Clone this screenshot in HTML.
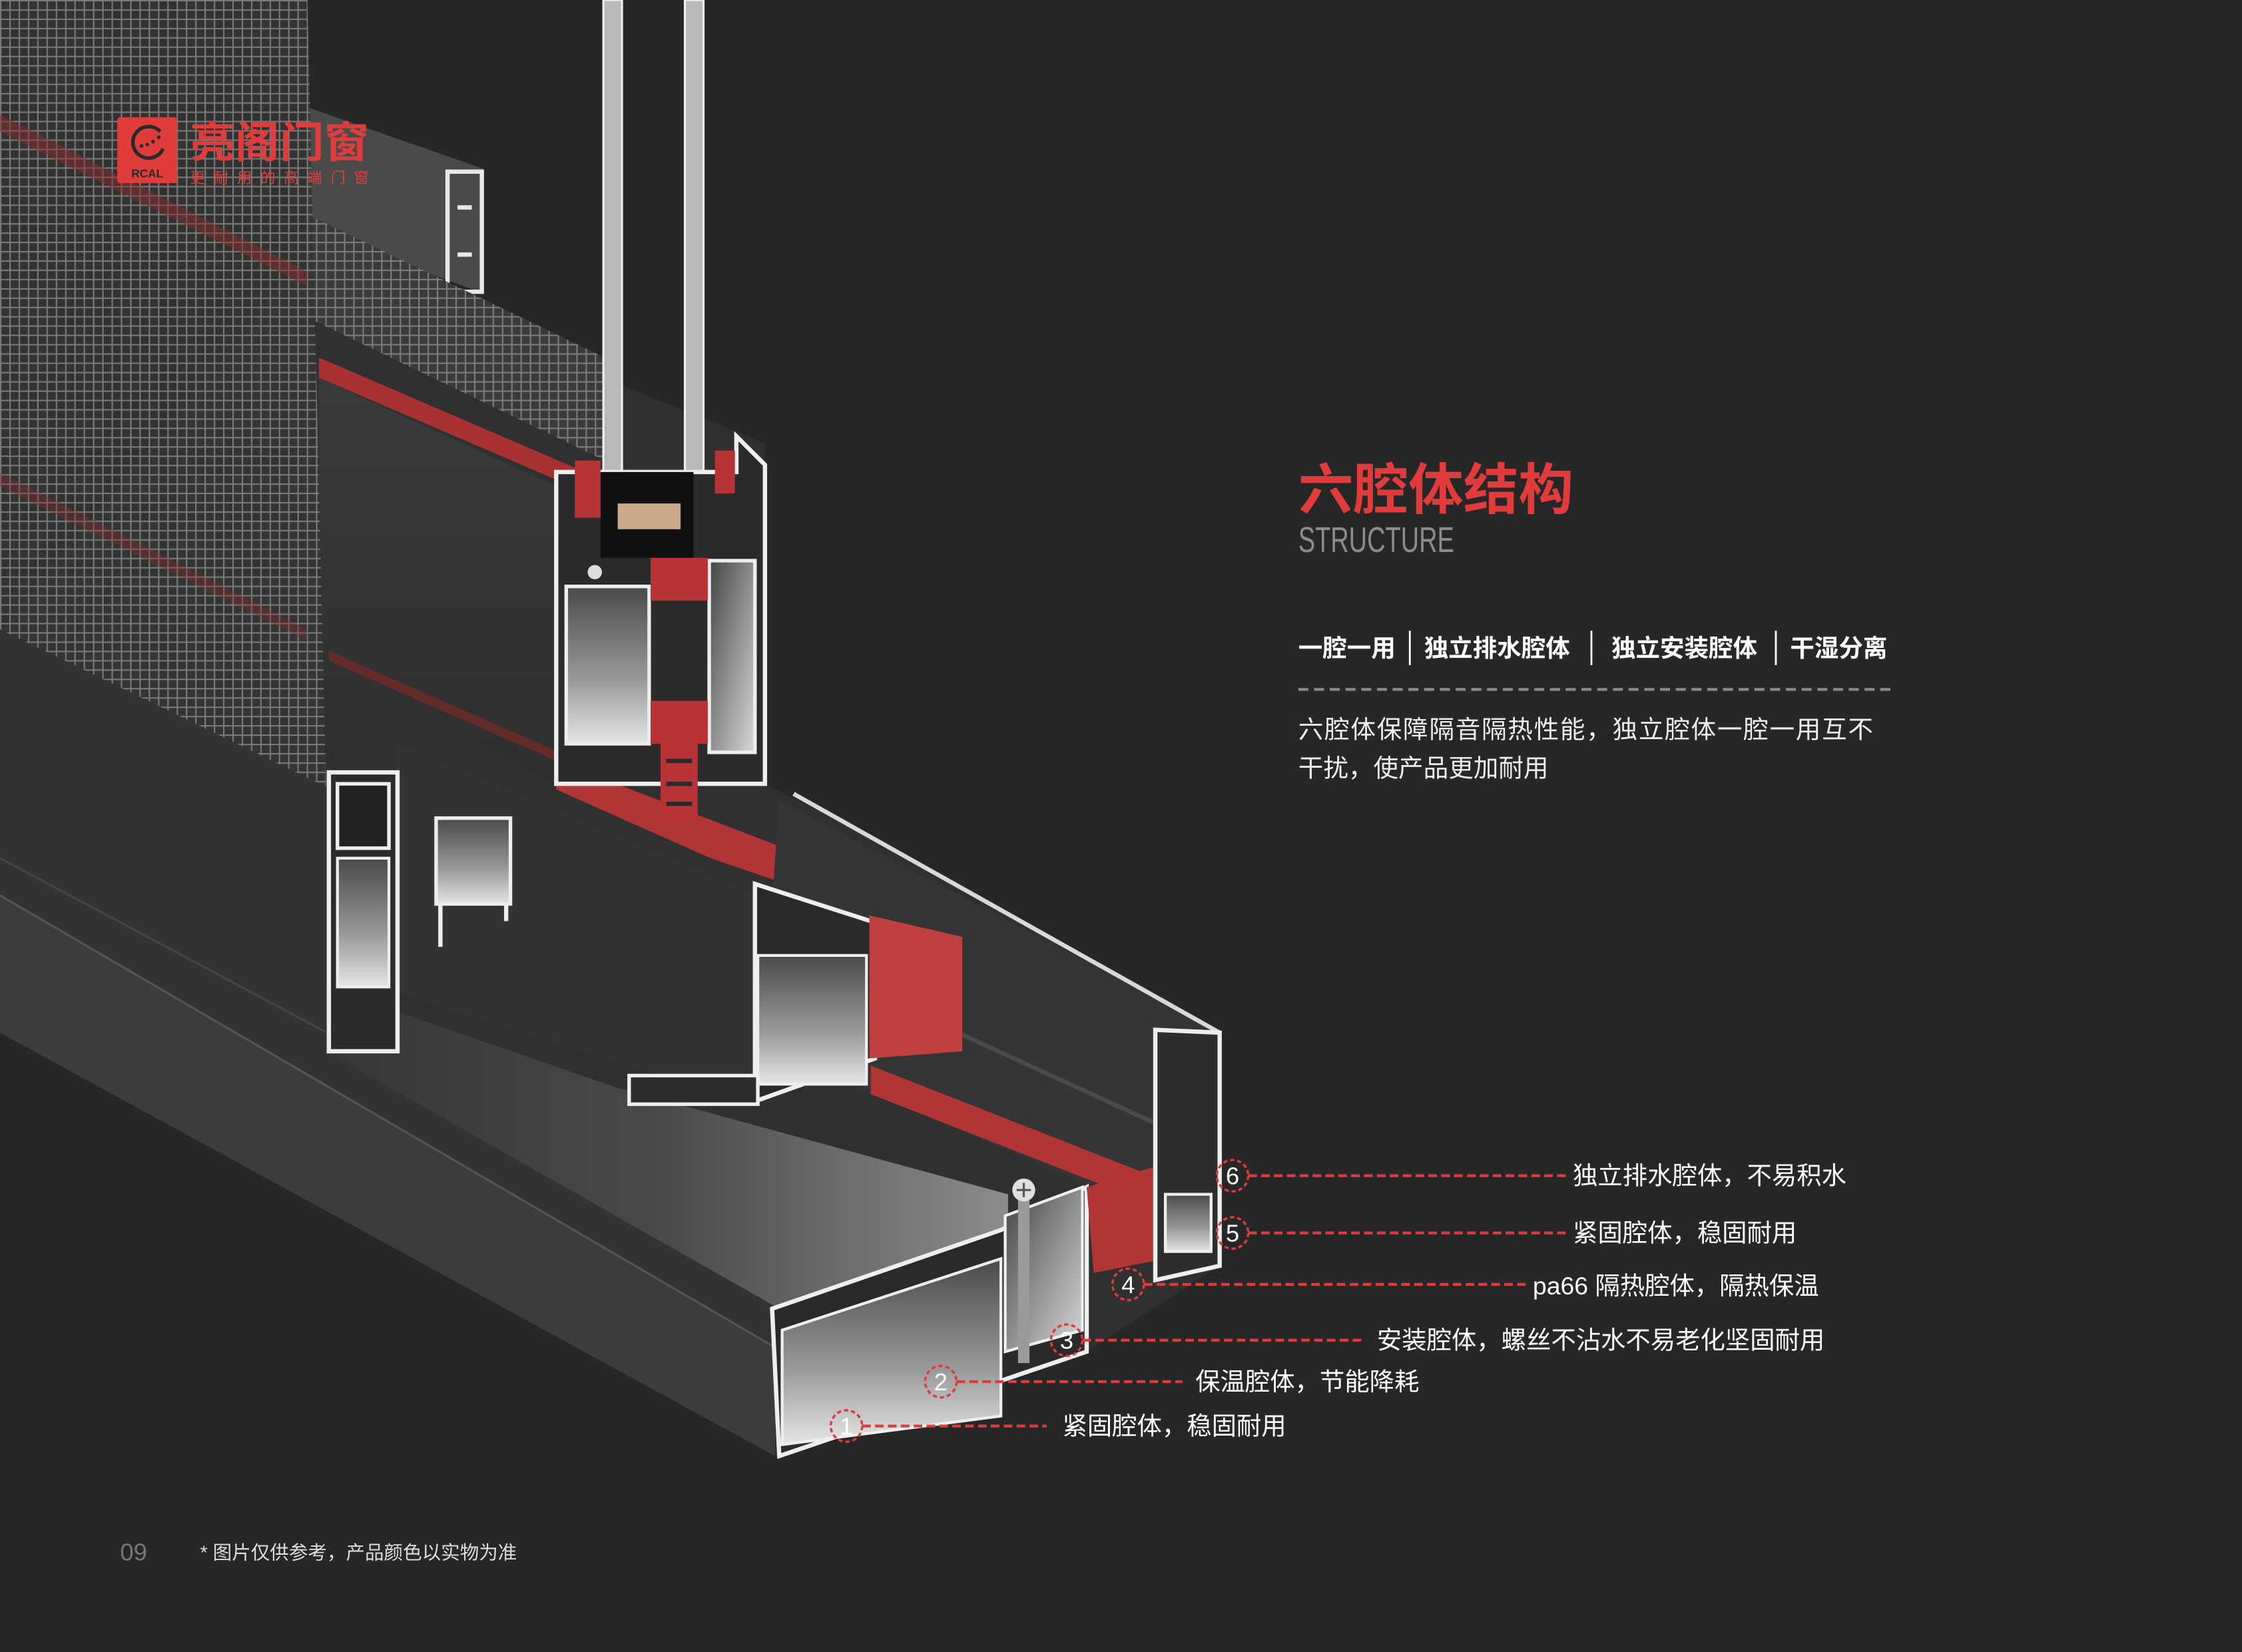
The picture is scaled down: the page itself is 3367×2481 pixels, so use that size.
<!DOCTYPE html>
<html><head><meta charset="utf-8"><style>
html,body{margin:0;padding:0;background:#272727;}
svg{display:block;}
text{font-family:"Liberation Sans","Noto Sans CJK SC",sans-serif;}
</style></head><body>
<svg width="3367" height="2481" viewBox="0 0 1568 1155" preserveAspectRatio="none" xmlns="http://www.w3.org/2000/svg">
<defs>
<pattern id="mesh" width="6.5" height="6.5" patternUnits="userSpaceOnUse">
<rect width="6.5" height="6.5" fill="none"/>
<path d="M0 0.5H6.5M0.5 0V6.5" stroke="#a8a8a8" stroke-width="1" opacity="0.6"/>
</pattern>
<linearGradient id="alu" x1="0" y1="0" x2="0" y2="1"><stop offset="0" stop-color="#4a4a4a"/><stop offset="0.6" stop-color="#9a9a9a"/><stop offset="1" stop-color="#e6e6e6"/></linearGradient>
<linearGradient id="alu2" x1="0" y1="0" x2="1" y2="1"><stop offset="0" stop-color="#444"/><stop offset="1" stop-color="#d8d8d8"/></linearGradient>
<linearGradient id="plane" x1="0" y1="0" x2="1" y2="0"><stop offset="0" stop-color="#363636"/><stop offset="0.5" stop-color="#4a4a4a"/><stop offset="1" stop-color="#8c8c8c"/></linearGradient>
<linearGradient id="face" x1="0" y1="0" x2="0" y2="1"><stop offset="0" stop-color="#3a3a3a"/><stop offset="1" stop-color="#2e2e2e"/></linearGradient>
</defs>
<rect width="1568" height="1155" fill="#272727"/>

<polygon points="215,180 535,310 535,548 600,580 853,720 853,885 760,945 545,1018 0,722 0,440" fill="#303030"/>
<polygon points="215,75 338,118 338,205 215,160" fill="#4a4a4a"/>
<rect x="313" y="120" width="24" height="84" fill="none" stroke="#e8e8e8" stroke-width="3"/>
<path d="M320 145h10M320 178h10" stroke="#e8e8e8" stroke-width="3"/>
<polygon points="215,150 423,250 423,322 215,222" fill="#3a3a3a"/>
<polygon points="215,150 423,250 423,322 215,222" fill="url(#mesh)"/>
<polygon points="223,250 423,336 423,350 223,264" fill="#a83232"/>
<polygon points="223,264 389,340 389,547 223,474" fill="url(#face)"/>
<polygon points="230,455 389,525 389,532 230,462" fill="#7a2a2a" opacity="0.7"/>
<polygon points="389,532 672,640 672,660 497,600 389,552" fill="#b23535"/>
<polygon points="0,440 228,550 228,735 540,905 540,942 0,626" fill="#333333"/>
<polygon points="0,626 542,942 542,1018 0,722" fill="#3c3c3c"/>
<line x1="0" y1="626" x2="542" y2="942" stroke="#555" stroke-width="1.5"/>
<line x1="0" y1="600" x2="300" y2="760" stroke="#444" stroke-width="1.5"/>
<polygon points="228,690 430,760 705,835 705,860 545,915 228,735" fill="url(#plane)"/>
<polygon points="545,560 853,722 853,820 760,828 600,760 535,700" fill="#353535"/>
<line x1="555" y1="555" x2="853" y2="722" stroke="#d8d8d8" stroke-width="3"/>
<line x1="600" y1="690" x2="840" y2="800" stroke="#4a4a4a" stroke-width="3"/>
<polygon points="609,745 813,825 813,845 609,765" fill="#b23535"/>
<polygon points="0,0 215,0 228,550 0,440" fill="#353535" opacity="0.85"/>
<polygon points="0,0 215,0 228,550 0,440" fill="url(#mesh)"/>
<polygon points="0,80 215,190 215,200 0,92" fill="#8a2b2b" opacity="0.5"/>
<polygon points="0,330 215,440 215,448 0,340" fill="#8a2b2b" opacity="0.35"/>
<rect x="422" y="0" width="13" height="390" fill="#b9b9b9" stroke="#eee" stroke-width="1.5"/>
<rect x="479" y="0" width="13" height="330" fill="#b9b9b9" stroke="#eee" stroke-width="1.5"/>
<path d="M389 330 L515 330 L515 305 L535 325 L535 548 L389 548 Z" fill="#2b2b2b" stroke="#eee" stroke-width="3"/>
<rect x="420" y="330" width="65" height="60" fill="#111"/>
<rect x="432" y="352" width="44" height="18" fill="#c9a98a"/>
<rect x="402" y="322" width="18" height="40" fill="#b83434"/>
<rect x="500" y="315" width="14" height="30" fill="#b83434"/>
<rect x="396" y="410" width="58" height="110" fill="url(#alu)" stroke="#eee" stroke-width="2.5"/>
<rect x="496" y="392" width="32" height="134" fill="url(#alu2)" stroke="#eee" stroke-width="2.5"/>
<rect x="455" y="390" width="40" height="30" fill="#b83434"/>
<rect x="455" y="490" width="40" height="30" fill="#b83434"/>
<rect x="462" y="520" width="26" height="55" fill="#b83434"/>
<path d="M466 532h18M466 548h18M466 562h18" stroke="#2a2a2a" stroke-width="3"/>
<circle cx="416" cy="400" r="5" fill="#ddd"/>
<polygon points="277,519 530,626 530,773 277,694" fill="#333"/>
<path d="M528 618 L612 645 L612 740 L528 770 Z" fill="#2a2a2a" stroke="#eee" stroke-width="3"/>
<rect x="530" y="668" width="76" height="90" fill="url(#alu)" stroke="#eee" stroke-width="2"/>
<polygon points="608,640 673,655 673,735 608,740" fill="#c0403f"/>
<rect x="440" y="752" width="90" height="20" fill="#2d2d2d" stroke="#eee" stroke-width="2.5"/>
<rect x="230" y="540" width="48" height="195" fill="#2b2b2b" stroke="#eee" stroke-width="3"/>
<rect x="236" y="548" width="36" height="45" fill="#222" stroke="#eee" stroke-width="2.5"/>
<rect x="236" y="600" width="36" height="90" fill="url(#alu)" stroke="#eee" stroke-width="2"/>
<rect x="305" y="572" width="52" height="60" fill="url(#alu)" stroke="#eee" stroke-width="2.5"/>
<path d="M308 632v30M354 632v12" stroke="#eee" stroke-width="3"/>
<path d="M540 915 L700 860 L760 830 L760 945 L545 1018 Z" fill="#2a2a2a" stroke="#eee" stroke-width="3"/>
<polygon points="547,930 700,880 700,990 547,1010" fill="url(#alu)" stroke="#eee" stroke-width="2"/>
<polygon points="703,850 757,830 757,930 703,945" fill="url(#alu2)" stroke="#eee" stroke-width="2"/>
<polygon points="760,830 810,815 815,880 765,890" fill="#b23535"/>
<polygon points="808,720 853,722 853,885 808,895" fill="#2d2d2d" stroke="#eee" stroke-width="3"/>
<rect x="815" y="835" width="32" height="40" fill="url(#alu)" stroke="#eee" stroke-width="2"/>
<rect x="712" y="838" width="8" height="115" fill="#9a9a9a"/>
<circle cx="716" cy="832" r="8" fill="#e0e0e0"/>
<path d="M711 832h10M716 827v10" stroke="#555" stroke-width="1.5"/>

<rect x="82" y="82" width="42" height="46" rx="2" fill="#e03c3c"/>
<path d="M112 92 A11 11 0 1 0 114 104" fill="none" stroke="#2a2a2a" stroke-width="2.5"/>
<circle cx="99" cy="102" r="1.3" fill="#2a2a2a"/><circle cx="103" cy="101" r="1.3" fill="#2a2a2a"/><circle cx="107" cy="99" r="1.3" fill="#2a2a2a"/><circle cx="111" cy="96" r="1.3" fill="#2a2a2a"/>
<text x="103" y="124" font-size="8" font-weight="bold" fill="#2a2a2a" text-anchor="middle">RCAL</text>
<text x="133" y="110" font-size="30" font-weight="bold" fill="#e03c3c" textLength="125" lengthAdjust="spacingAndGlyphs">亮阁门窗</text>
<text x="133" y="128" font-size="10.5" fill="#e03c3c" textLength="125" lengthAdjust="spacing">更耐用的高端门窗</text>

<text x="908" y="356" font-size="38.5" font-weight="bold" fill="#e23b3b">六腔体结构</text>
<text x="908" y="386" font-size="25" fill="#8c8c8c" textLength="109" lengthAdjust="spacingAndGlyphs">STRUCTURE</text>
<g font-size="17" font-weight="bold" fill="#ffffff">
<text x="908" y="459">一腔一用</text>
<text x="996" y="459">独立排水腔体</text>
<text x="1127" y="459">独立安装腔体</text>
<text x="1252" y="459">干湿分离</text>
</g>
<g stroke="#ffffff" stroke-width="1.3">
<line x1="986" y1="441" x2="986" y2="465"/><line x1="1113" y1="441" x2="1113" y2="465"/><line x1="1242" y1="441" x2="1242" y2="465"/>
</g>
<line x1="908" y1="482" x2="1325" y2="482" stroke="#8a8a8a" stroke-width="2" stroke-dasharray="7 4"/>
<text x="908" y="516" font-size="17.5" fill="#eeeeee" textLength="402" lengthAdjust="spacing">六腔体保障隔音隔热性能，独立腔体一腔一用互不</text>
<text x="908" y="543" font-size="17.5" fill="#eeeeee">干扰，使产品更加耐用</text>

<g fill="none" stroke="#e03a3a">
<g stroke-width="1.6" stroke-dasharray="3 2">
<circle cx="862" cy="822" r="11"/><circle cx="862" cy="862" r="11"/><circle cx="789" cy="898" r="11"/>
<circle cx="746" cy="937" r="11"/><circle cx="658" cy="966" r="11"/><circle cx="592" cy="997" r="11"/>
</g>
<g stroke-width="2" stroke-dasharray="6 3">
<line x1="873" y1="822" x2="1095" y2="822"/><line x1="873" y1="862" x2="1095" y2="862"/>
<line x1="800" y1="898" x2="1068" y2="898"/><line x1="757" y1="937" x2="955" y2="937"/>
<line x1="669" y1="966" x2="827" y2="966"/><line x1="603" y1="997" x2="732" y2="997"/>
</g>
</g>
<g font-size="17" fill="#ffffff" text-anchor="middle">
<text x="862" y="828">6</text><text x="862" y="868">5</text><text x="789" y="904">4</text>
<text x="746" y="943">3</text><text x="658" y="972">2</text><text x="592" y="1003">1</text>
</g>
<g font-size="17.4" fill="#ffffff">
<text x="1100" y="828">独立排水腔体，不易积水</text>
<text x="1100" y="868">紧固腔体，稳固耐用</text>
<text x="1072" y="905">pa66 隔热腔体，隔热保温</text>
<text x="963" y="943">安装腔体，螺丝不沾水不易老化坚固耐用</text>
<text x="836" y="972">保温腔体，节能降耗</text>
<text x="743" y="1003">紧固腔体，稳固耐用</text>
</g>

<text x="84" y="1091" font-size="17" fill="#777">09</text>
<text x="140" y="1090" font-size="13.3" fill="#dddddd">* 图片仅供参考，产品颜色以实物为准</text>
</svg>
</body></html>
